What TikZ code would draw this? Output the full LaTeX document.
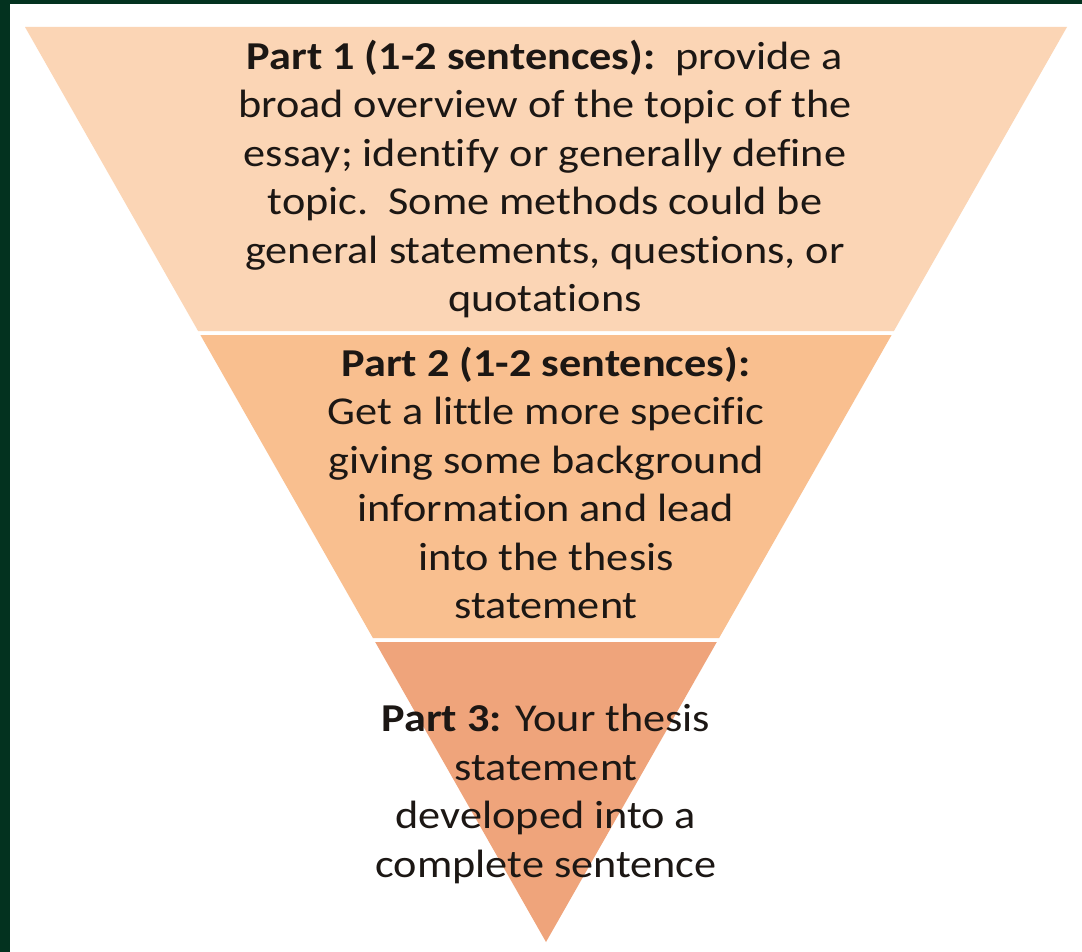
\documentclass[tikz,border=0pt]{standalone}
\usepackage{fontspec}
\setmainfont{Carlito}[FakeStretch=1.12,Ligatures=NoCommon]
\usepackage{xcolor}
\usepackage{tikz}
\usetikzlibrary{positioning}

\definecolor{frame}{HTML}{03321F}
\definecolor{bandone}{HTML}{FBD5B5}
\definecolor{bandtwo}{HTML}{F9BF8F}
\definecolor{bandthree}{HTML}{EFA47B}
\definecolor{ink}{HTML}{1C1714}

\tikzset{
  parttext/.style={align=center,inner sep=0pt,text=ink,
    font=\fontsize{39.5}{48.5}\selectfont}
}

\begin{document}
\begin{tikzpicture}[x=1pt,y=-1pt]
% Frame and page
\fill[frame] (0,0) rectangle (1082,952);
\fill[white] (10,4) rectangle (1082,952);

% Funnel bands
\fill[bandone] (25,27) -- (1067,27) -- (893.9,331) -- (198.1,331) -- cycle; % Part 1
\fill[bandtwo] (200.4,335) -- (891.6,335) -- (719.1,638) -- (372.9,638) -- cycle; % Part 2
\fill[bandthree] (375.2,642) -- (716.8,642) -- (546,942) -- cycle; % Part 3

% Texts
\node[parttext] (part1) at (545,179) {\textbf{Part 1 (1-2 sentences):}\ \ provide a\\
  broad overview of the topic of the\\
  essay; identify or generally define\\
  topic.\ \ Some methods could be\\
  general statements, questions, or\\
  quotations};
\node[parttext] (part2) at (546,483) {\textbf{Part 2 (1-2 sentences):}\\
  Get a little more specific\\
  giving some background\\
  information and lead\\
  into the thesis\\
  statement};
\node[parttext] (part3) at (546,794) {\textbf{Part 3:} Your thesis\\
  statement\\
  developed into a\\
  complete sentence};
\end{tikzpicture}
\end{document}
